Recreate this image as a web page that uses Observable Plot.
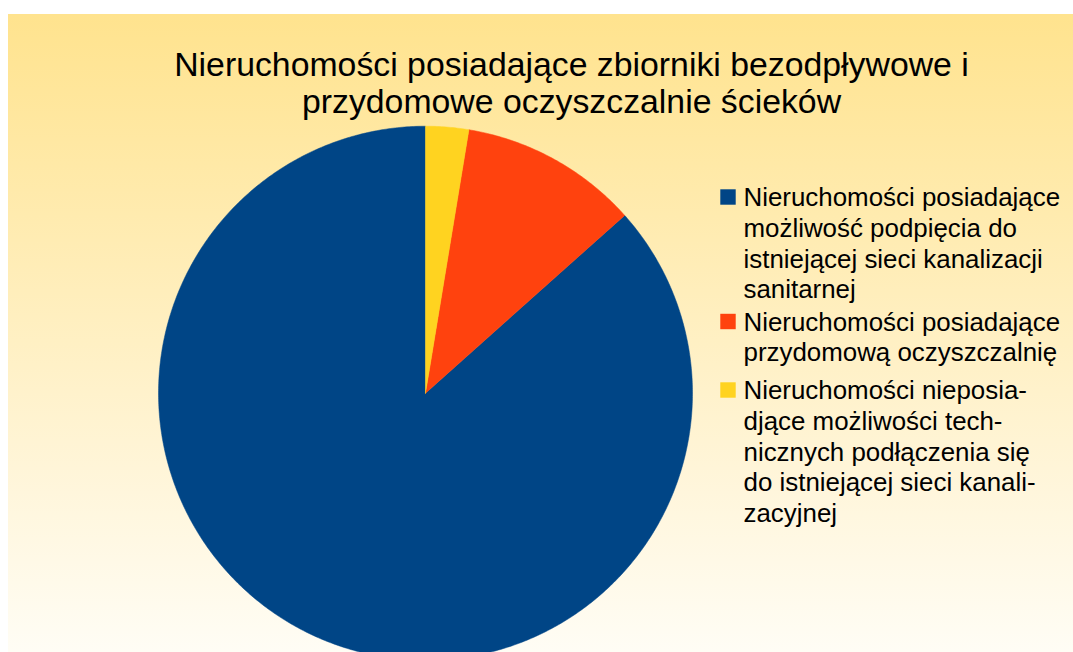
<!DOCTYPE html>
<html>
<head>
<meta charset="utf-8">
<script src="https://cdn.jsdelivr.net/npm/d3@7"></script>
<script src="https://cdn.jsdelivr.net/npm/@observablehq/plot@0.6"></script>
<style>
  html, body { margin: 0; padding: 0; background: #ffffff; }
  #wrap { position: relative; width: 1073px; height: 652px; overflow: hidden; background: #ffffff; }
  #bg { position: absolute; left: 8px; top: 14px; right: 0; bottom: 0;
        background: linear-gradient(to bottom, #ffe38e 0%, #fff6dc 75%, #fffdf5 100%); }
  #chart { position: absolute; left: 0; top: 0; }
</style>
</head>
<body>
<div id="wrap"><div id="bg"></div><div id="chart"></div></div>
<script>
// ---- data ----
const categories = [
  "Nieruchomości posiadające możliwość podpięcia do istniejącej sieci kanalizacji sanitarnej",
  "Nieruchomości posiadające przydomową oczyszczalnię",
  "Nieruchomości nieposiadjące możliwości technicznych podłączenia się do istniejącej sieci kanalizacyjnej"
];
const values = [86.6, 10.8, 2.6];
const palette = ["#004586", "#ff420e", "#ffd320"];
const titleLines = [
  "Nieruchomości posiadające zbiorniki bezodpływowe i",
  "przydomowe oczyszczalnie ścieków"
];
const legendLines = [
  ["Nieruchomości posiadające", "możliwość podpięcia do", "istniejącej sieci kanalizacji", "sanitarnej"],
  ["Nieruchomości posiadające", "przydomową oczyszczalnię"],
  ["Nieruchomości nieposia-", "djące możliwości tech-", "nicznych podłączenia się", "do istniejącej sieci kanali-", "zacyjnej"]
];

// ---- geometry of slices (counter-clockwise from 12 o'clock) ----
const arcs = d3.pie().sort(null).startAngle(0).endAngle(-2 * Math.PI)(values);
const piePts = [];
arcs.forEach((a, i) => {
  const name = categories[i];
  const n = Math.max(2, Math.ceil(Math.abs(a.endAngle - a.startAngle) / (Math.PI / 360)));
  piePts.push({name, x: 0, y: 0});
  for (let k = 0; k <= n; k++) {
    const t = a.startAngle + (a.endAngle - a.startAngle) * k / n;
    piePts.push({name, x: Math.sin(t), y: Math.cos(t)});
  }
  piePts.push({name, x: 0, y: 0});
});

const font = "'Liberation Sans', Arial, sans-serif";
const marks = [
  Plot.line(piePts, {x: "x", y: "y", z: "name", fill: "name", stroke: "name", strokeWidth: 0.5, curve: "linear"})
];

// title
const titleBase = [75, 112];
titleLines.forEach((t, i) => {
  marks.push(Plot.text([t], {text: d => d, frameAnchor: "top", dx: 34.5, dy: titleBase[i],
    textAnchor: "middle", lineAnchor: "bottom", fontSize: 33.8, fill: "#000"}));
});

// legend
const legBase = [205.5, 330, 398.5];
const legLH = 30.8;
legendLines.forEach((lines, i) => {
  marks.push(Plot.dot([categories[i]], {frameAnchor: "top-left", dx: 727.5, dy: legBase[i] - 9,
    symbol: "square", r: 8.7, fill: d => d, stroke: "none"}));
  lines.forEach((l, j) => {
    marks.push(Plot.text([l], {text: d => d, frameAnchor: "top-left", dx: 743, dy: legBase[i] + j * legLH,
      textAnchor: "start", lineAnchor: "bottom", fontSize: 25.9, fill: "#000"}));
  });
});

const chart = Plot.plot({
  width: 1073,
  height: 652,
  margin: 0,
  style: {background: "transparent", fontFamily: font, overflow: "hidden"},
  x: {domain: [-1, 1], range: [158, 692], axis: null},
  y: {domain: [-1, 1], range: [659.7, 125.7], axis: null},
  color: {type: "ordinal", domain: categories, range: palette},
  marks
});
document.getElementById("chart").appendChild(chart);
</script>
</body>
</html>
